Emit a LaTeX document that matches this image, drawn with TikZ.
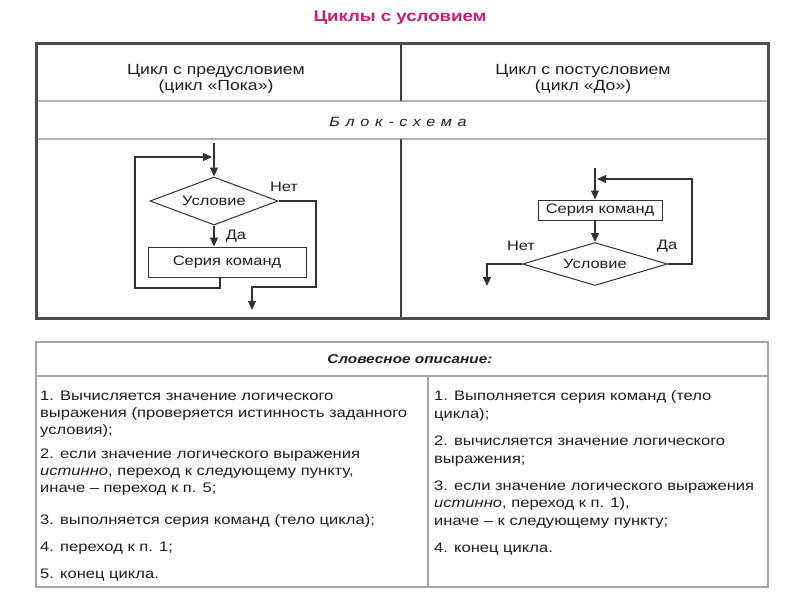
\documentclass[tikz,border=0pt]{standalone}
\usepackage{fontspec}
\setmainfont{Liberation Sans}[FakeStretch=1.2]
\usetikzlibrary{shapes.geometric,arrows.meta}
\definecolor{titlec}{RGB}{200,30,120}
\definecolor{linec}{RGB}{50,50,50}
\definecolor{txtc}{RGB}{30,30,30}
\begin{document}
\begin{tikzpicture}[x=1pt,y=-1pt,
  arr/.style={draw=linec,line width=1.1pt,-{Triangle[length=9pt,width=8pt]}},
  cmdbox/.style={rectangle,draw=linec,line width=1pt,inner sep=0pt,font=\fontsize{13.7}{16}\selectfont,text=txtc},
  cond/.style={diamond,aspect=2.7,draw=linec,line width=1pt,inner sep=0pt,font=\fontsize{13.7}{16}\selectfont,text=txtc},
  lbl/.style={font=\fontsize{13.7}{16}\selectfont,inner sep=0pt,text=txtc},
  hdr/.style={font=\fontsize{14.7}{17}\selectfont,inner sep=0pt,text=txtc},
  body/.style={font=\fontsize{13.8}{16}\selectfont,inner sep=0pt,anchor=base west,text=txtc},
  outerframe/.style={draw=black!70,line width=3pt},
  innerrule/.style={draw=gray!60,line width=1.5pt},
  thinframe/.style={draw=gray!70,line width=1.5pt}
]
\useasboundingbox (0,0) rectangle (800,600);
\fill[white] (0,0) rectangle (800,600);

% title
\node[font=\bfseries\fontsize{15.5}{18}\selectfont,text=titlec,inner sep=0pt] (title) at (400,18) {Циклы с условием};

% top table
\draw[innerrule] (36,101) -- (768,101);
\draw[innerrule] (36,139) -- (768,139);
\draw[draw=gray!50!black,line width=2pt] (401,43) -- (401,101);
\draw[draw=gray!50!black,line width=2pt] (401,139) -- (401,318);
\draw[outerframe] (36,43) rectangle (768,318);

\node[hdr] (h1) at (216,71) {Цикл с предусловием};
\node[hdr] (h1b) at (216,87) {(цикл «Пока»)};
\node[hdr] (h2) at (583,71) {Цикл с постусловием};
\node[hdr] (h2b) at (583,87) {(цикл «До»)};
\node[font=\itshape\fontsize{13.5}{16}\selectfont\addfontfeature{LetterSpace=42},inner sep=0pt,text=txtc] (bs) at (398,122) {Блок-схема};

% left flowchart (while)
\coordinate (e1) at (214,143);
\node[cond,minimum width=128pt,minimum height=48pt] (D1) at (214,201) {Условие};
\node[cmdbox,minimum width=158pt,minimum height=30pt] (S1) at (227,262) {Серия команд};
\node[lbl] (yes1) at (236,236) {Да};
\node[lbl] (no1) at (284,187) {Нет};
\coordinate (cR1) at (316,287);
\coordinate (out1) at (252,310);
\coordinate (cL1) at (135,288);
\coordinate (cT1) at (135,157);
\draw[arr] (e1) -- (D1.north);
\draw[arr] (D1.south) -- (D1.south |- S1.north);
\draw[arr] (D1.east) -| (cR1) -- (cR1 -| out1) -- (out1);
\draw[arr] ([xshift=-7pt]S1.south) |- (cL1) |- ([xshift=-2pt]e1 |- cT1);

% right flowchart (do-while)
\coordinate (e2) at (595,168);
\node[cmdbox,minimum width=124pt,minimum height=20pt] (S2) at (600,210) {Серия команд};
\node[cond,minimum width=145pt,minimum height=43pt] (D2) at (595,264) {Условие};
\node[lbl] (no2) at (521,246) {Нет};
\node[lbl] (yes2) at (667,246) {Да};
\coordinate (cR2) at (692,179);
\coordinate (out2) at (487,286);
\draw[arr] (e2) -- (e2 |- S2.north);
\draw[arr] (e2 |- S2.south) -- (D2.north);
\draw[arr] (D2.west) -| (out2);
\draw[arr] (D2.east) -| (cR2) -- ([xshift=2pt]e2 |- cR2);

% bottom table
\draw[thinframe] (36,342) rectangle (768,587);
\draw[thinframe] (36,376) -- (768,376);
\draw[thinframe] (428,376) -- (428,587);
\node[font=\bfseries\itshape\fontsize{12.8}{16}\selectfont,inner sep=0pt,text=txtc] (wd) at (410,359) {Словесное описание:};

\node[body] (a1) at (40,400) {1. Вычисляется значение логического};
\node[body] (a2) at (40,417) {выражения (проверяется истинность заданного};
\node[body] (a3) at (40,434) {условия);};
\node[body] (a4) at (40,458) {2. если значение логического выражения};
\node[body] (a5) at (40,475) {{\itshape истинно}, переход к следующему пункту,};
\node[body] (a6) at (40,492) {иначе – переход к п. 5;};
\node[body] (a7) at (40,524) {3. выполняется серия команд (тело цикла);};
\node[body] (a8) at (40,551) {4. переход к п. 1;};
\node[body] (a9) at (40,578) {5. конец цикла.};

\node[body] (b1) at (434,400) {1. Выполняется серия команд (тело};
\node[body] (b2) at (434,418) {цикла);};
\node[body] (b3) at (434,445) {2. вычисляется значение логического};
\node[body] (b4) at (434,463) {выражения;};
\node[body] (b5) at (434,490) {3. если значение логического выражения};
\node[body] (b6) at (434,507) {{\itshape истинно}, переход к п. 1),};
\node[body] (b7) at (434,525) {иначе – к следующему пункту;};
\node[body] (b8) at (434,552) {4. конец цикла.};
\end{tikzpicture}
\end{document}
